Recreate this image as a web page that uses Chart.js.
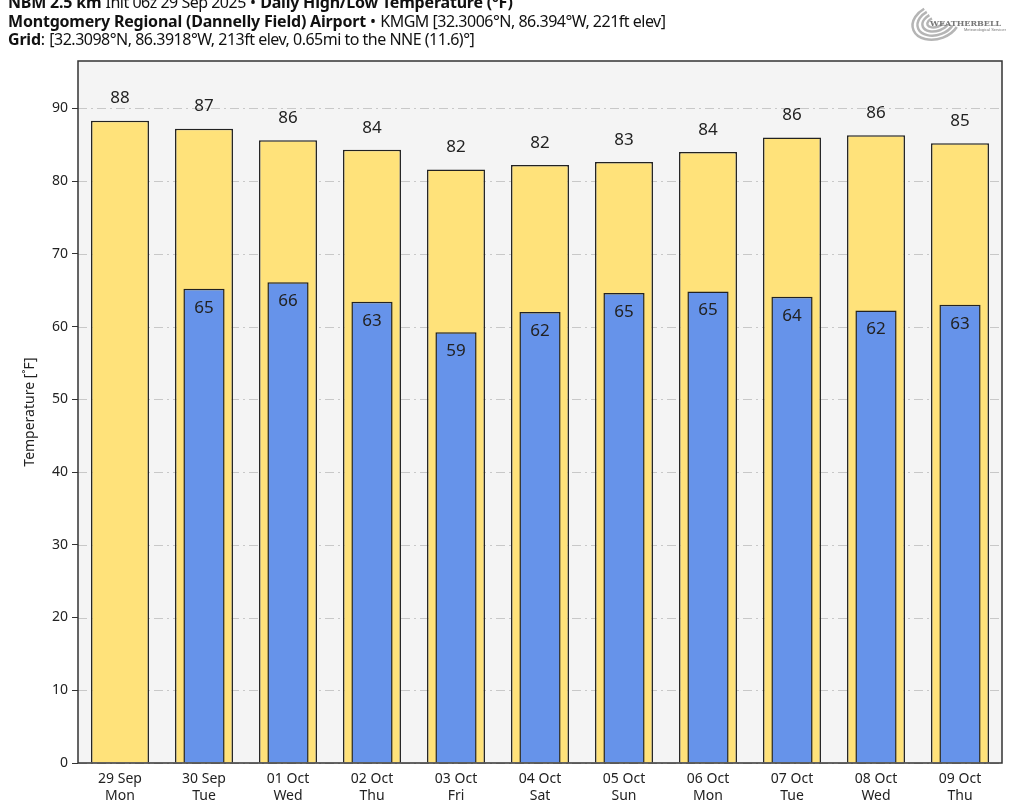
<!DOCTYPE html>
<html>
<head>
<meta charset="utf-8">
<script src="https://cdn.jsdelivr.net/npm/chart.js@4.4.1/dist/chart.umd.min.js"></script>
<style>
  html, body { margin: 0; padding: 0; background: #fff; }
  #wrap { position: relative; width: 1024px; height: 803px; }
  #title { position: absolute; left: 8px; top: -7px; font-family: "Noto Sans", sans-serif; font-size: 16px; line-height: 18.5px; color: #111; }
  #title b { font-weight: 700; letter-spacing: -0.2px; }
  #title .n { letter-spacing: -0.5px; }
  #logo { position: absolute; left: 906px; top: 0px; width: 100px; height: 46px; }
</style>
</head>
<body>
<div id="wrap">
  <canvas id="chart" width="1024" height="803"></canvas>
  <div id="title">
    <div><b>NBM 2.5 km</b> <span class="n">Init 06z 29 Sep 2025</span> • <b>Daily High/Low Temperature (°F)</b></div>
    <div><b>Montgomery Regional (Dannelly Field) Airport</b> • <span class="n">KMGM [32.3006°N, 86.394°W, 221ft elev]</span></div>
    <div><b>Grid</b>: <span class="n">[32.3098°N, 86.3918°W, 213ft elev, 0.65mi to the NNE (11.6)°]</span></div>
  </div>
  <canvas id="logo" width="100" height="46"></canvas>
</div>
<script>
// categories and values
const days = [['29 Sep', 'Mon'], ['30 Sep', 'Tue'], ['01 Oct', 'Wed'], ['02 Oct', 'Thu'], ['03 Oct', 'Fri'], ['04 Oct', 'Sat'],
              ['05 Oct', 'Sun'], ['06 Oct', 'Mon'], ['07 Oct', 'Tue'], ['08 Oct', 'Wed'], ['09 Oct', 'Thu']];
const highs = [88.3, 87.2, 85.6, 84.3, 81.6, 82.2, 82.6, 84.0, 86.0, 86.3, 85.2];
const lows = [null, 65.2, 66.1, 63.4, 59.2, 62.0, 64.6, 64.8, 64.1, 62.2, 63.0];
const yTicks = [0, 10, 20, 30, 40, 50, 60, 70, 80, 90];

const font = '"Noto Sans", sans-serif';

// little logo
const lg = document.getElementById('logo').getContext('2d');
lg.strokeStyle = '#b5b5b5';
lg.lineWidth = 2.5;
for (let i = 0; i < 4; i++) {
  lg.beginPath();
  lg.ellipse(30, 22, 24 - i * 5, 17 - i * 4, -0.3, 0.7, 4.4);
  lg.stroke();
}
lg.fillStyle = '#777';
lg.font = 'bold 8px "DejaVu Serif", serif';
lg.fillText('WEATHERBELL', 24, 26);
lg.font = '4px sans-serif';
lg.fillText('Meteorological Services', 58, 31);

// plot background, dashed grid and frame
const framePlugin = {
  id: 'frame',
  beforeDatasetsDraw(chart) {
    const a = chart.chartArea, c = chart.ctx, y = chart.scales.y;
    c.save();
    c.fillStyle = '#f4f4f4';
    c.fillRect(a.left, a.top, a.width, a.height);
    c.strokeStyle = '#c8c8c8';
    c.lineWidth = 1;
    c.setLineDash([9, 4, 2, 4]);
    yTicks.forEach(v => {
      const py = Math.round(y.getPixelForValue(v)) + 0.5;
      c.beginPath();
      c.moveTo(a.left, py);
      c.lineTo(a.right, py);
      c.stroke();
    });
    c.restore();
  },
  afterDraw(chart) {
    const a = chart.chartArea, c = chart.ctx;
    c.save();
    c.strokeStyle = '#333';
    c.lineWidth = 1.5;
    c.strokeRect(a.left, a.top, a.width, a.height);
    c.restore();
  }
};

// value labels: highs above the bar, lows inside near the top
const labelPlugin = {
  id: 'labels',
  afterDatasetsDraw(chart) {
    const c = chart.ctx;
    c.save();
    c.font = '17px ' + font;
    c.fillStyle = '#222';
    c.textAlign = 'center';
    c.textBaseline = 'middle';
    chart.getDatasetMeta(1).data.forEach((bar, i) => {
      c.fillText(Math.round(highs[i]), bar.x, bar.y - 22);
    });
    chart.getDatasetMeta(0).data.forEach((bar, i) => {
      if (lows[i] == null) return;
      c.fillText(Math.round(lows[i]), bar.x, bar.y + 19);
    });
    c.restore();
  }
};

new Chart(document.getElementById('chart'), {
  type: 'bar',
  data: {
    labels: days,
    datasets: [
      {
        label: 'Low',
        data: lows,
        backgroundColor: '#6693ea',
        borderColor: '#222',
        borderWidth: 1.5,
        barPercentage: 0.49,
        categoryPercentage: 1,
        grouped: false,
        order: 1
      },
      {
        label: 'High',
        data: highs,
        backgroundColor: '#ffe27a',
        borderColor: '#222',
        borderWidth: 1.5,
        barPercentage: 0.69,
        categoryPercentage: 1,
        grouped: false,
        order: 2
      }
    ]
  },
  options: {
    responsive: false,
    animation: false,
    layout: { padding: { top: 61, right: 22, left: 22, bottom: 0 } },
    plugins: { legend: { display: false }, tooltip: { enabled: false } },
    scales: {
      x: {
        grid: { display: false },
        border: { display: false },
        ticks: { color: '#222', font: { family: font, size: 14 }, padding: 0, maxRotation: 0 },
        afterFit(s) { s.height = 40; }
      },
      y: {
        min: 0,
        max: 96.5,
        afterBuildTicks(s) { s.ticks = yTicks.map(v => ({ value: v })); },
        grid: { drawOnChartArea: false, tickColor: '#333', tickLength: 6 },
        border: { display: false },
        ticks: { color: '#222', font: { family: font, size: 14 }, padding: 4 },
        title: { display: true, text: 'Temperature [˚F]', color: '#222', font: { family: font, size: 14 }, padding: 0 },
        afterFit(s) { s.width = 56; }
      }
    }
  },
  plugins: [framePlugin, labelPlugin]
});
</script>
</body>
</html>
